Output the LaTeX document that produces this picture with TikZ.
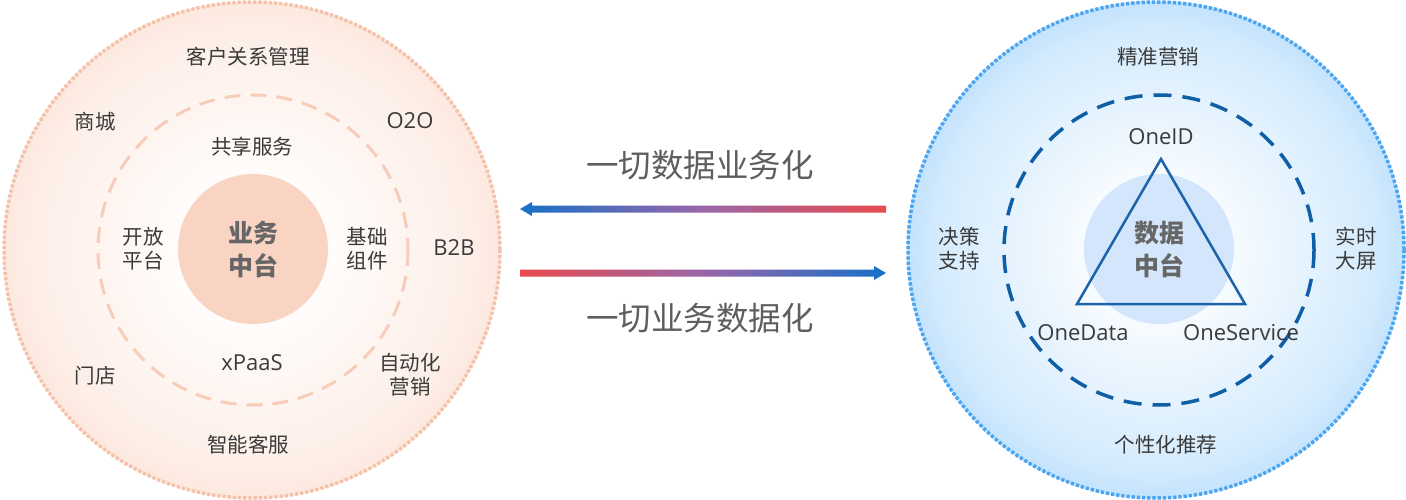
\documentclass[tikz,border=0pt]{standalone}
\usepackage{fontspec}
\setmainfont{Noto Sans CJK SC}
\newfontfamily\latinfont{Open Sans}
\usetikzlibrary{calc}
\definecolor{peachedge}{HTML}{FAD6C5}
\definecolor{peachmid}{HTML}{FDEEE7}
\definecolor{peachdot}{HTML}{F5C2A9}
\definecolor{peachdash}{HTML}{F7CCB8}
\definecolor{peachcore}{HTML}{F9D4C3}
\definecolor{blueedge}{HTML}{88C7FA}
\definecolor{bluemid}{HTML}{D4EBFD}
\definecolor{bluemid2}{HTML}{AFD9FC}
\definecolor{bluedot}{HTML}{4AA4F0}
\definecolor{bluedash}{HTML}{0E5FA6}
\definecolor{bluecore}{HTML}{D3E6FB}
\definecolor{tri}{HTML}{1D63AA}
\definecolor{arrblue}{HTML}{1570C8}
\definecolor{arrmid}{HTML}{9A66A8}
\definecolor{arrred}{HTML}{EA4A4E}
\definecolor{txt}{HTML}{3A3A3A}
\definecolor{txtmid}{HTML}{5E5E5E}
\definecolor{txtcore}{HTML}{666666}
% the circle edge falls at about 35.4bp of the shading
\pgfdeclareradialshading{peachglow}{\pgfpoint{0bp}{0bp}}{color(0bp)=(white); color(5bp)=(white); color(22bp)=(peachmid); color(35.4bp)=(peachedge); color(50bp)=(peachedge)}
\pgfdeclareradialshading{blueglow}{\pgfpoint{0bp}{0bp}}{color(0bp)=(white); color(4bp)=(white); color(22bp)=(bluemid); color(28.4bp)=(bluemid2); color(35.4bp)=(blueedge); color(50bp)=(blueedge)}
\tikzset{
  lbl/.style={text=txt, font=\fontsize{20.5}{24}\selectfont, align=center, inner sep=0pt},
  latlbl/.style={text=txt, font=\latinfont\fontsize{22}{24}\selectfont, align=center, inner sep=0pt},
  corelbl/.style={text=txtcore, font=\bfseries\fontsize{25}{33}\selectfont, align=center, inner sep=0pt},
  biglbl/.style={text=txtmid, font=\fontsize{32.5}{38}\selectfont, inner sep=0pt},
}
\begin{document}
\begin{tikzpicture}[x=1pt,y=-1pt]
\useasboundingbox (0,0) rectangle (1406,500);
% ---------- left circle ----------
\coordinate (L) at (252,250);
\shade[shading=peachglow] (L) circle (249);
\draw[peachdot, line width=3.5pt, dash pattern=on 3.2pt off 2pt] (L) circle (248);
\draw[peachdash, line width=3pt, dash pattern=on 16pt off 10pt] (253,250) circle (155);
\node[circle, fill=peachcore, minimum size=150pt, inner sep=0pt] (lcore) at (253,249) {};
\node[corelbl] (lcoret) at (253,249) {业务\\中台};
\node[lbl] (crm) at (248,57) {客户关系管理};
\node[lbl] (mall) at (95,122) {商城};
\node[latlbl] (o2o) at (410,121) {O2O};
\node[lbl] (share) at (252,147) {共享服务};
\node[lbl] (open) at (143,249) {开放\\平台};
\node[lbl] (base) at (367,249) {基础\\组件};
\node[latlbl] (b2b) at (454,248) {B2B};
\node[latlbl] (xpaas) at (252,363) {xPaaS};
\node[lbl] (store) at (95,376) {门店};
\node[lbl] (auto) at (410,375) {自动化\\营销};
\node[lbl] (svc) at (248,445) {智能客服};
% ---------- right circle ----------
\coordinate (R) at (1156,250);
\shade[shading=blueglow] (R) circle (249);
\draw[bluedot, line width=3.5pt, dash pattern=on 3.2pt off 2pt] (R) circle (248);
\draw[bluedash, line width=3.5pt, dash pattern=on 18pt off 11pt] (1159,250) circle (155);
\node[circle, fill=bluecore, minimum size=150pt, inner sep=0pt] (rcore) at (1159,249) {};
\coordinate (tA) at (1161,159);
\coordinate (tB) at (1077,304);
\coordinate (tC) at (1245,304);
\draw[tri, line width=2.5pt, line join=miter] (tA) -- (tB) -- (tC) -- cycle;
\node[corelbl] (rcoret) at (1159,249) {数据\\中台};
\node[latlbl] (oneid) at (1161,137) {OneID};
\node[latlbl] (onedata) at (1083,333) {OneData};
\node[latlbl] (oneservice) at (1241,333) {OneService};
\node[lbl] (mkt) at (1158,57) {精准营销};
\node[lbl] (dec) at (959,249) {决策\\支持};
\node[lbl] (scr) at (1356,249) {实时\\大屏};
\node[lbl] (rec) at (1166,445) {个性化推荐};
% ---------- arrows ----------
\node[biglbl] (t1) at (700,165) {一切数据业务化};
\node[biglbl] (t2) at (700,318) {一切业务数据化};
\coordinate (a1s) at (886,209);
\coordinate (a1e) at (520,209);
\coordinate (a2s) at (520,273);
\coordinate (a2e) at (886,273);
\shade[left color=arrblue, right color=arrred, middle color=arrmid]
  (a1s) ++(0,-3.5) -- ($(a1e)+(12,-3.5)$) -- ($(a1e)+(12,-7)$) -- (a1e)
  -- ($(a1e)+(12,7)$) -- ($(a1e)+(12,3.5)$) -- ($(a1s)+(0,3.5)$) -- cycle;
\shade[left color=arrred, right color=arrblue, middle color=arrmid]
  (a2s) ++(0,-3.5) -- ($(a2e)+(-12,-3.5)$) -- ($(a2e)+(-12,-7)$) -- (a2e)
  -- ($(a2e)+(-12,7)$) -- ($(a2e)+(-12,3.5)$) -- ($(a2s)+(0,3.5)$) -- cycle;
\end{tikzpicture}
\end{document}
